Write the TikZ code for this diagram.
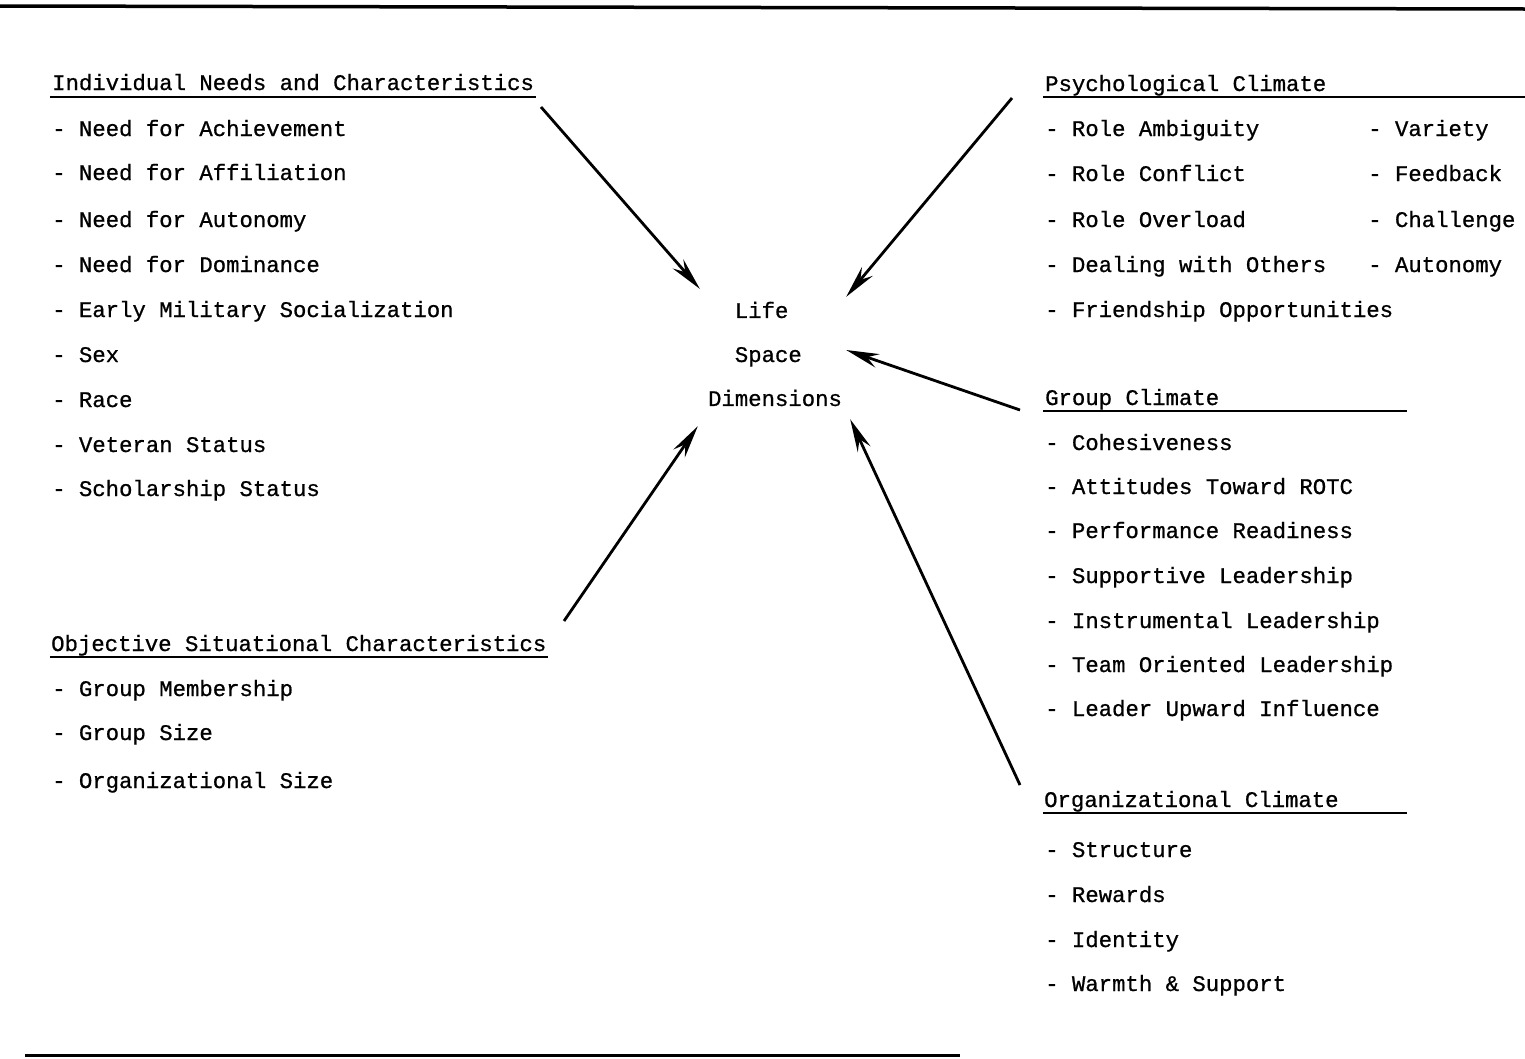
\documentclass[tikz,border=0pt]{standalone}
\usepackage{fontspec}
\usepackage{tikz}
\usetikzlibrary{arrows.meta, positioning}
\newfontfamily\tw[FakeBold=0.8]{Liberation Mono}
\tikzstyle{hdr}=[inner sep=0pt, anchor=base west, font=\tw\fontsize{22.3}{26}\selectfont]
\tikzstyle{itm}=[inner sep=0pt, anchor=base west, font=\tw\fontsize{22.3}{26}\selectfont]
\tikzstyle{uline}=[line width=1.8pt]
\tikzstyle{arr}=[line width=2.8pt, -{Stealth[length=33pt, width=14pt, inset=11pt]}]

\begin{document}
\begin{tikzpicture}[x=1pt, y=-1pt]
\useasboundingbox (0,0) rectangle (1525,1058);
% the rules at top and bottom
\draw[line width=3.5pt] (0,6) -- (1525,9);
\draw[line width=3pt] (25,1055) -- (960,1055);
% the centre
\node[inner sep=0pt, minimum width=150pt, minimum height=130pt, align=left,
  font=\tw\fontsize{22.3}{44}\selectfont] (lsd) at (775,354)
  {\phantom{Di}Life\\ \phantom{Di}Space\\ Dimensions};
% individual needs
\node[hdr] (ind) at (52,90) {Individual Needs and Characteristics};
\draw[uline] ([shift={(-2,7)}]ind.base west) -- ++(486,0);
\node[itm] (ind1) at (52,136) {- Need for Achievement};
\node[itm] (ind2) at (52,180) {- Need for Affiliation};
\node[itm] (ind3) at (52,227) {- Need for Autonomy};
\node[itm] (ind4) at (52,272) {- Need for Dominance};
\node[itm] (ind5) at (52,317) {- Early Military Socialization};
\node[itm] (ind6) at (52,362) {- Sex};
\node[itm] (ind7) at (52,407) {- Race};
\node[itm] (ind8) at (52,452) {- Veteran Status};
\node[itm] (ind9) at (52,496) {- Scholarship Status};
% objective situational characteristics
\node[hdr] (obj) at (51,651) {Objective Situational Characteristics};
\draw[uline] ([shift={(-1,6)}]obj.base west) -- ++(498,0);
\node[itm] (obj1) at (52,696) {- Group Membership};
\node[itm] (obj2) at (52,740) {- Group Size};
\node[itm] (obj3) at (52,788) {- Organizational Size};
% psychological climate
\node[hdr] (psy) at (1045,91) {Psychological Climate};
\draw[uline] ([shift={(-2,6)}]psy.base west) -- ++(482,0);
\node[itm] (psy1) at (1045,136) {- Role Ambiguity};
\node[itm] (psy2) at (1045,181) {- Role Conflict};
\node[itm] (psy3) at (1045,227) {- Role Overload};
\node[itm] (psy4) at (1045,272) {- Dealing with Others};
\node[itm] (psy5) at (1045,317) {- Friendship Opportunities};
\node[itm] (psy6) at (1368,136) {- Variety};
\node[itm] (psy7) at (1368,181) {- Feedback};
\node[itm] (psy8) at (1368,227) {- Challenge};
\node[itm] (psy9) at (1368,272) {- Autonomy};
% group climate
\node[hdr] (grp) at (1045,405) {Group Climate};
\draw[uline] ([shift={(-2,6)}]grp.base west) -- ++(364,0);
\node[itm] (grp1) at (1045,450) {- Cohesiveness};
\node[itm] (grp2) at (1045,494) {- Attitudes Toward ROTC};
\node[itm] (grp3) at (1045,538) {- Performance Readiness};
\node[itm] (grp4) at (1045,583) {- Supportive Leadership};
\node[itm] (grp5) at (1045,628) {- Instrumental Leadership};
\node[itm] (grp6) at (1045,672) {- Team Oriented Leadership};
\node[itm] (grp7) at (1045,716) {- Leader Upward Influence};
% organizational climate
\node[hdr] (org) at (1044,807) {Organizational Climate};
\draw[uline] ([shift={(-1,6)}]org.base west) -- ++(364,0);
\node[itm] (org1) at (1045,857) {- Structure};
\node[itm] (org2) at (1045,902) {- Rewards};
\node[itm] (org3) at (1045,947) {- Identity};
\node[itm] (org4) at (1045,991) {- Warmth \& Support};
% the arrows
\coordinate (a1) at (541,107);
\coordinate (a2) at (1012,98);
\coordinate (a3) at (1020,410);
\coordinate (a4) at (564,621);
\coordinate (a5) at (1020,785);
\draw[arr] (a1) -- (lsd.north west);
\draw[arr] (a2) -- ([shift={(-4,8)}]lsd.north east);
\draw[arr] (a3) -- ([shift={(-4,-4)}]lsd.east);
\draw[arr] (a4) -- ([shift={(-2,7)}]lsd.south west);
\draw[arr] (a5) -- (lsd.south east);
\end{tikzpicture}
\end{document}
